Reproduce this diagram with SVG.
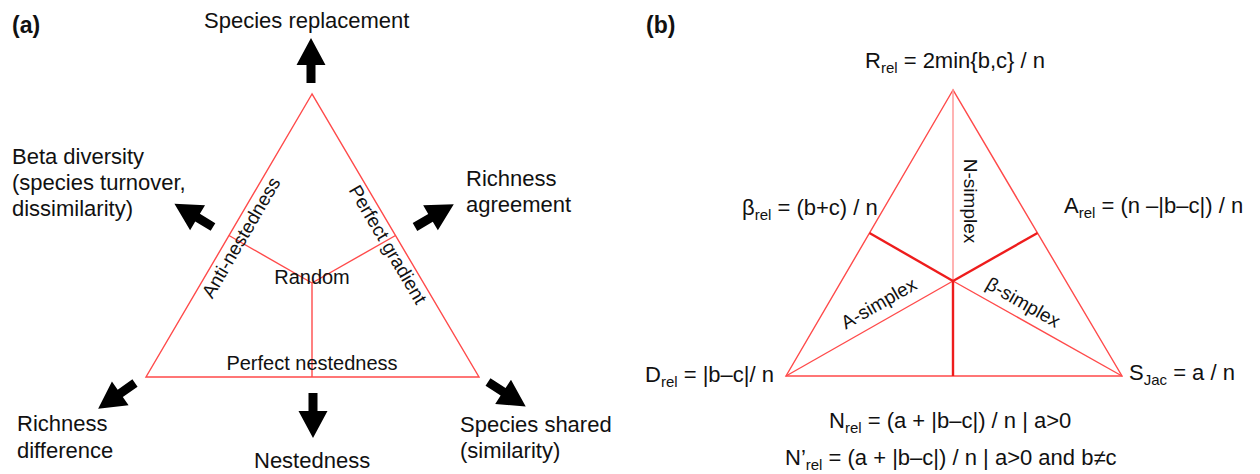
<svg xmlns="http://www.w3.org/2000/svg" xmlns:xlink="http://www.w3.org/1999/xlink" width="1260" height="474" viewBox="0 0 1260 474">
<style>
text{font-family:"Liberation Sans",Arial,sans-serif;fill:#111;}
.out{font-size:22px;}
.in{font-size:20px;}
.rot{font-size:19px;}
.pl{font-size:23px;font-weight:bold;}
.fm{font-size:22px;}
.sub{font-size:15px;}
.tri{fill:none;stroke:#ff4a4a;stroke-width:1.4;stroke-linejoin:miter;}
.thin{stroke:#ff4a4a;stroke-width:1.4;fill:none;}
.light{stroke:#ff9a9a;stroke-width:1.5;fill:none;}
.thick{stroke:#ee1c1c;stroke-width:2.4;fill:none;}
.arr{fill:#000;}
</style>
<defs>
<path id="arr" d="M0,-4.5 L18,-4.5 L18,-14.5 L45,0 L18,14.5 L18,4.5 L0,4.5 Z"/>
</defs>
<rect width="1260" height="474" fill="#fff"/>

<!-- Panel (a) -->
<g id="label-a"><text class="pl" x="12" y="33">(a)</text></g>
<g id="triangle-a">
<polygon class="tri" points="312,94 146,377 479,377"/>
<line class="thin" x1="229" y1="235.5" x2="312" y2="283"/>
<line class="thin" x1="395.5" y1="235.5" x2="312" y2="283"/>
<line class="thin" x1="312" y1="283" x2="312" y2="377"/>
</g>
<g id="anti-nestedness"><text class="rot" text-anchor="middle" transform="translate(246.7,240.8) rotate(-59.6)">Anti-nestedness</text></g>
<g id="perfect-gradient"><text class="rot" text-anchor="middle" transform="translate(382.3,247.8) rotate(59.5)">Perfect gradient</text></g>
<g id="random"><text class="in" text-anchor="middle" x="312" y="284">Random</text></g>
<g id="perfect-nestedness"><text class="in" text-anchor="middle" x="312" y="370">Perfect nestedness</text></g>

<g id="species-replacement"><text class="out" x="204" y="28">Species replacement</text></g>
<g id="beta-diversity"><text class="out" x="12" y="164">Beta diversity</text><text class="out" x="12" y="190">(species turnover,</text><text class="out" x="12" y="216">dissimilarity)</text></g>
<g id="richness-agreement"><text class="out" x="466" y="186">Richness</text><text class="out" x="466" y="212">agreement</text></g>
<g id="richness-difference"><text class="out" x="17" y="431">Richness</text><text class="out" x="17" y="458">difference</text></g>
<g id="nestedness"><text class="out" x="254" y="468">Nestedness</text></g>
<g id="species-shared"><text class="out" x="460" y="432">Species shared</text><text class="out" x="460" y="458">(similarity)</text></g>

<g id="connectors">
<use xlink:href="#arr" class="arr" transform="translate(311,83) rotate(-90)"/>
<use xlink:href="#arr" class="arr" transform="translate(313,393) rotate(90)"/>
<use xlink:href="#arr" class="arr" transform="translate(213,227) rotate(-149)"/>
<use xlink:href="#arr" class="arr" transform="translate(415,227) rotate(-30.5)"/>
<use xlink:href="#arr" class="arr" transform="translate(135,383) rotate(145)"/>
<use xlink:href="#arr" class="arr" transform="translate(488,382) rotate(33)"/>
</g>

<!-- Panel (b) -->
<g id="label-b"><text class="pl" x="646" y="33">(b)</text></g>
<g id="triangle-b">
<polygon class="tri" points="953,90 786,376 1122,376"/>
<line class="light" x1="953" y1="90" x2="953" y2="281"/>
<line class="thin" x1="953" y1="281" x2="786" y2="376"/>
<line class="thin" x1="953" y1="281" x2="1122" y2="376"/>
<line class="thick" x1="869.5" y1="233" x2="953" y2="281"/>
<line class="thick" x1="1037.5" y1="233" x2="953" y2="281"/>
<line class="thick" x1="953" y1="281" x2="953" y2="376"/>
</g>
<g id="n-simplex"><text class="rot" text-anchor="middle" transform="translate(964,201) rotate(90)">N-simplex</text></g>
<g id="a-simplex"><text class="rot" text-anchor="middle" transform="translate(882,309) rotate(-29.9)">A-simplex</text></g>
<g id="beta-simplex"><text class="rot" text-anchor="middle" transform="translate(1020,308) rotate(29.6)">β-simplex</text></g>

<g id="r-rel"><text class="fm" x="865" y="68">R<tspan class="sub" dy="5">rel</tspan><tspan dy="-5"> = 2min{b,c} / n</tspan></text></g>
<g id="beta-rel"><text class="fm" x="742" y="215">β<tspan class="sub" dy="5">rel</tspan><tspan dy="-5"> = (b+c) / n</tspan></text></g>
<g id="a-rel"><text class="fm" x="1064" y="213">A<tspan class="sub" dy="5">rel</tspan><tspan dy="-5"> = (n –|b–c|) / n</tspan></text></g>
<g id="d-rel"><text class="fm" x="645" y="382">D<tspan class="sub" dy="5">rel</tspan><tspan dy="-5"> = |b–c|/ n</tspan></text></g>
<g id="s-jac"><text class="fm" x="1129" y="380">S<tspan class="sub" dy="5">Jac</tspan><tspan dy="-5"> = a / n</tspan></text></g>
<g id="n-rel"><text class="fm" x="829" y="428">N<tspan class="sub" dy="5">rel</tspan><tspan dy="-5"> = (a + |b–c|) / n | a&gt;0</tspan></text></g>
<g id="n-prime-rel"><text class="fm" x="785" y="465">N’<tspan class="sub" dy="5">rel</tspan><tspan dy="-5"> = (a + |b–c|) / n | a&gt;0 and b≠c</tspan></text></g>
</svg>
